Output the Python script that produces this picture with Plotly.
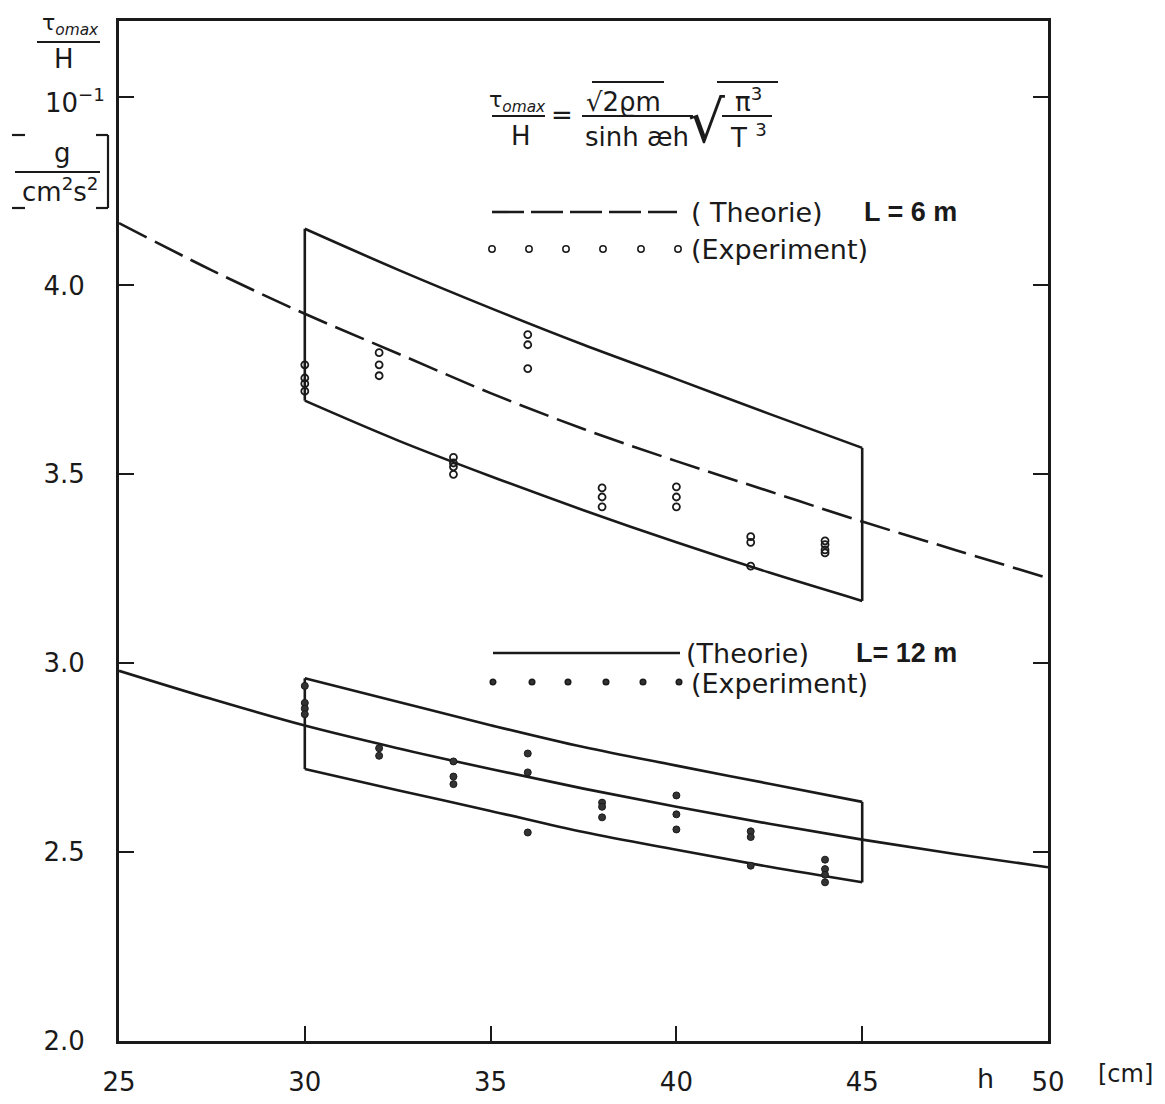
import plotly.graph_objects as go

# ---------------- data ----------------
h_theory = [25, 27.5, 30, 32.5, 35, 37.5, 40, 42.5, 45, 47.5, 50]
theory_L6 = [4.165, 4.04, 3.925, 3.82, 3.715, 3.62, 3.535, 3.455, 3.375, 3.30, 3.225]
theory_L12 = [2.98, 2.905, 2.835, 2.775, 2.72, 2.668, 2.62, 2.575, 2.533, 2.495, 2.46]

box_h = [30, 32.5, 35, 37.5, 40, 42.5, 45]
box6_upper = [4.15, 4.042, 3.94, 3.843, 3.752, 3.66, 3.57]
box6_lower = [3.695, 3.59, 3.495, 3.405, 3.32, 3.24, 3.165]
box12_upper = [2.96, 2.898, 2.836, 2.778, 2.729, 2.681, 2.633]
box12_lower = [2.72, 2.664, 2.609, 2.553, 2.506, 2.461, 2.42]

exp6_h = [30, 30, 30, 30, 32, 32, 32, 34, 34, 34, 34, 36, 36, 36,
          38, 38, 38, 40, 40, 40, 42, 42, 42, 44, 44, 44, 44]
exp6_v = [3.79, 3.755, 3.74, 3.72, 3.822, 3.79, 3.761, 3.545, 3.53, 3.52, 3.50,
          3.87, 3.843, 3.78, 3.464, 3.44, 3.414, 3.467, 3.44, 3.414,
          3.335, 3.32, 3.257, 3.324, 3.314, 3.30, 3.292]

exp12_h = [30, 30, 30, 30, 32, 32, 34, 34, 34, 36, 36, 36, 38, 38, 38,
           40, 40, 40, 42, 42, 42, 44, 44, 44, 44]
exp12_v = [2.94, 2.895, 2.88, 2.865, 2.775, 2.755, 2.74, 2.70, 2.68,
           2.761, 2.711, 2.552, 2.631, 2.62, 2.592, 2.65, 2.60, 2.56,
           2.555, 2.54, 2.464, 2.48, 2.455, 2.44, 2.42]

x_ticks = [25, 30, 35, 40, 45, 50]
x_ticktext = ["25", "30", "35", "40", "45", "50"]
y_ticks = [2.0, 2.5, 3.0, 3.5, 4.0, 4.5]
y_ticktext = ["2.0", "2.5", "3.0", "3.5", "4.0", ""]

# ---------------- layout geometry (screen pixels) ----------------
OFF = 8                      # default page body margin
W, H = 1165 - 2 * OFF, 1104 - 2 * OFF
L, R, T, B = 119, 1048, 21, 1041   # plot frame on screen
FONT = "DejaVu Sans"
BFONT = "Liberation Sans"
INK = "#1a1a1a"


def px(x):
    return (x - L) / (R - L)


def py(y):
    return (B - y) / (B - T)


fig = go.Figure()

line_style = dict(color=INK, width=2.6)

# theory curves
fig.add_trace(go.Scatter(x=h_theory, y=theory_L6, mode="lines",
                         line=dict(color=INK, width=2.6, dash="31px,9px", shape="spline"),
                         showlegend=False, hoverinfo="skip"))
fig.add_trace(go.Scatter(x=h_theory, y=theory_L12, mode="lines",
                         line=dict(line_style, shape="spline"),
                         showlegend=False, hoverinfo="skip"))

# scatter bands (upper & lower curves + vertical end edges)
for up, lo in [(box6_upper, box6_lower), (box12_upper, box12_lower)]:
    for curve in (up, lo):
        fig.add_trace(go.Scatter(x=box_h, y=curve, mode="lines",
                                 line=dict(line_style, shape="spline"),
                                 showlegend=False, hoverinfo="skip"))
    for i in (0, -1):
        fig.add_trace(go.Scatter(x=[box_h[i], box_h[i]], y=[lo[i], up[i]], mode="lines",
                                 line=line_style, showlegend=False, hoverinfo="skip"))

# experiments
fig.add_trace(go.Scatter(x=exp6_h, y=exp6_v, mode="markers",
                         marker=dict(symbol="circle-open", size=7, color=INK,
                                     line=dict(color=INK, width=1.8)),
                         showlegend=False, hoverinfo="skip"))
fig.add_trace(go.Scatter(x=exp12_h, y=exp12_v, mode="markers",
                         marker=dict(symbol="circle", size=7, color="#333333",
                                     line=dict(color=INK, width=1)),
                         showlegend=False, hoverinfo="skip"))

shapes = []
annotations = []


def text(x, y, s, size=26, xanchor="center", yanchor="middle", family=FONT):
    annotations.append(dict(x=px(x), y=py(y), xref="paper", yref="paper",
                            text=s, showarrow=False, xanchor=xanchor, yanchor=yanchor,
                            borderpad=0,
                            font=dict(family=family, size=size, color=INK)))


def hline(x0, x1, y, width=2.2, dash="solid"):
    shapes.append(dict(type="line", xref="paper", yref="paper",
                       x0=px(x0), x1=px(x1), y0=py(y), y1=py(y),
                       line=dict(color=INK, width=width, dash=dash)))


def vline(x, y0, y1, width=2.2):
    shapes.append(dict(type="line", xref="paper", yref="paper",
                       x0=px(x), x1=px(x), y0=py(y0), y1=py(y1),
                       line=dict(color=INK, width=width)))


def dot(x, y, r=3.2, filled=False):
    shapes.append(dict(type="circle", xref="paper", yref="paper",
                       x0=px(x - r), x1=px(x + r), y0=py(y + r), y1=py(y - r),
                       line=dict(color=INK, width=1.5),
                       fillcolor="#333333" if filled else "rgba(0,0,0,0)"))


# ---- y axis title block ----
text(70, 25, "τ<sub><i>omax</i></sub>", size=22)
hline(37, 100, 42)
text(64, 59, "H", size=26)
text(75, 101, "10<sup>−1</sup>", size=26)
text(62, 153, "g", size=26)
hline(15, 100, 172)
text(60, 190, "cm<sup>2</sup>s<sup>2</sup>", size=26)
hline(12, 25, 135)
hline(12, 25, 208)
hline(96, 108, 135)
hline(96, 108, 208)
vline(108, 135, 208)

# ---- formula ----
text(517, 101, "τ<sub><i>omax</i></sub>", size=22)
hline(492, 545, 116)
text(521, 136, "H", size=26)
text(562, 115, "=", size=26)
text(623, 102, "√2ϱm", size=26)
hline(592, 664, 82)
hline(582, 693, 116)
text(637, 137, "sinh æh", size=26)
text(706, 122, "√", size=58)
hline(717, 778, 82)
text(748, 100, "π<sup>3</sup>", size=26)
hline(722, 772, 116)
text(748, 136, "T <sup>3</sup>", size=26)

# ---- legend L = 6 m ----
hline(492, 677, 212, width=2.6, dash="32px,7px")
text(690, 212, "( Theorie)", size=27, xanchor="left")
text(863, 212, "<b>L = 6 m</b>", size=27, xanchor="left", family=BFONT)
for xx in [492, 529, 566, 603, 641, 678]:
    dot(xx, 249)
text(690, 250, "(Experiment)", size=27, xanchor="left")

# ---- legend L = 12 m ----
hline(493, 680, 653, width=2.6)
text(685, 653, "(Theorie)", size=27, xanchor="left")
text(855, 653, "<b>L= 12 m</b>", size=27, xanchor="left", family=BFONT)
for xx in [493, 532, 568, 606, 643, 679]:
    dot(xx, 682, r=2.8, filled=True)
text(690, 683, "(Experiment)", size=27, xanchor="left")

# ---- x axis title ----
text(985, 1078, "h", size=27)
text(1125, 1074, "[cm]", size=24)

fig.update_layout(
    width=W, height=H,
    margin=dict(l=L - OFF, r=W - (R - OFF), t=T - OFF, b=H - (B - OFF), pad=0,
                autoexpand=False),
    paper_bgcolor="white", plot_bgcolor="white",
    shapes=shapes, annotations=annotations,
    showlegend=False,
    font=dict(family=FONT, size=26, color=INK),
)
fig.update_xaxes(range=[25, 50], tickvals=x_ticks, ticktext=x_ticktext,
                 automargin=False,
                 showgrid=False, zeroline=False, showline=True, linewidth=3,
                 linecolor=INK, mirror=True, ticks="inside", ticklen=15,
                 tickwidth=2, tickcolor=INK, ticklabelstandoff=16,
                 tickfont=dict(family=FONT, size=26, color=INK))
fig.update_yaxes(range=[2.0, 4.70], tickvals=y_ticks, ticktext=y_ticktext,
                 automargin=False,
                 showgrid=False, zeroline=False, showline=True, linewidth=3,
                 linecolor=INK, mirror="ticks", ticks="inside", ticklen=15,
                 tickwidth=2, tickcolor=INK, ticklabelstandoff=26,
                 tickfont=dict(family=FONT, size=26, color=INK))

fig.write_html("out.html")
